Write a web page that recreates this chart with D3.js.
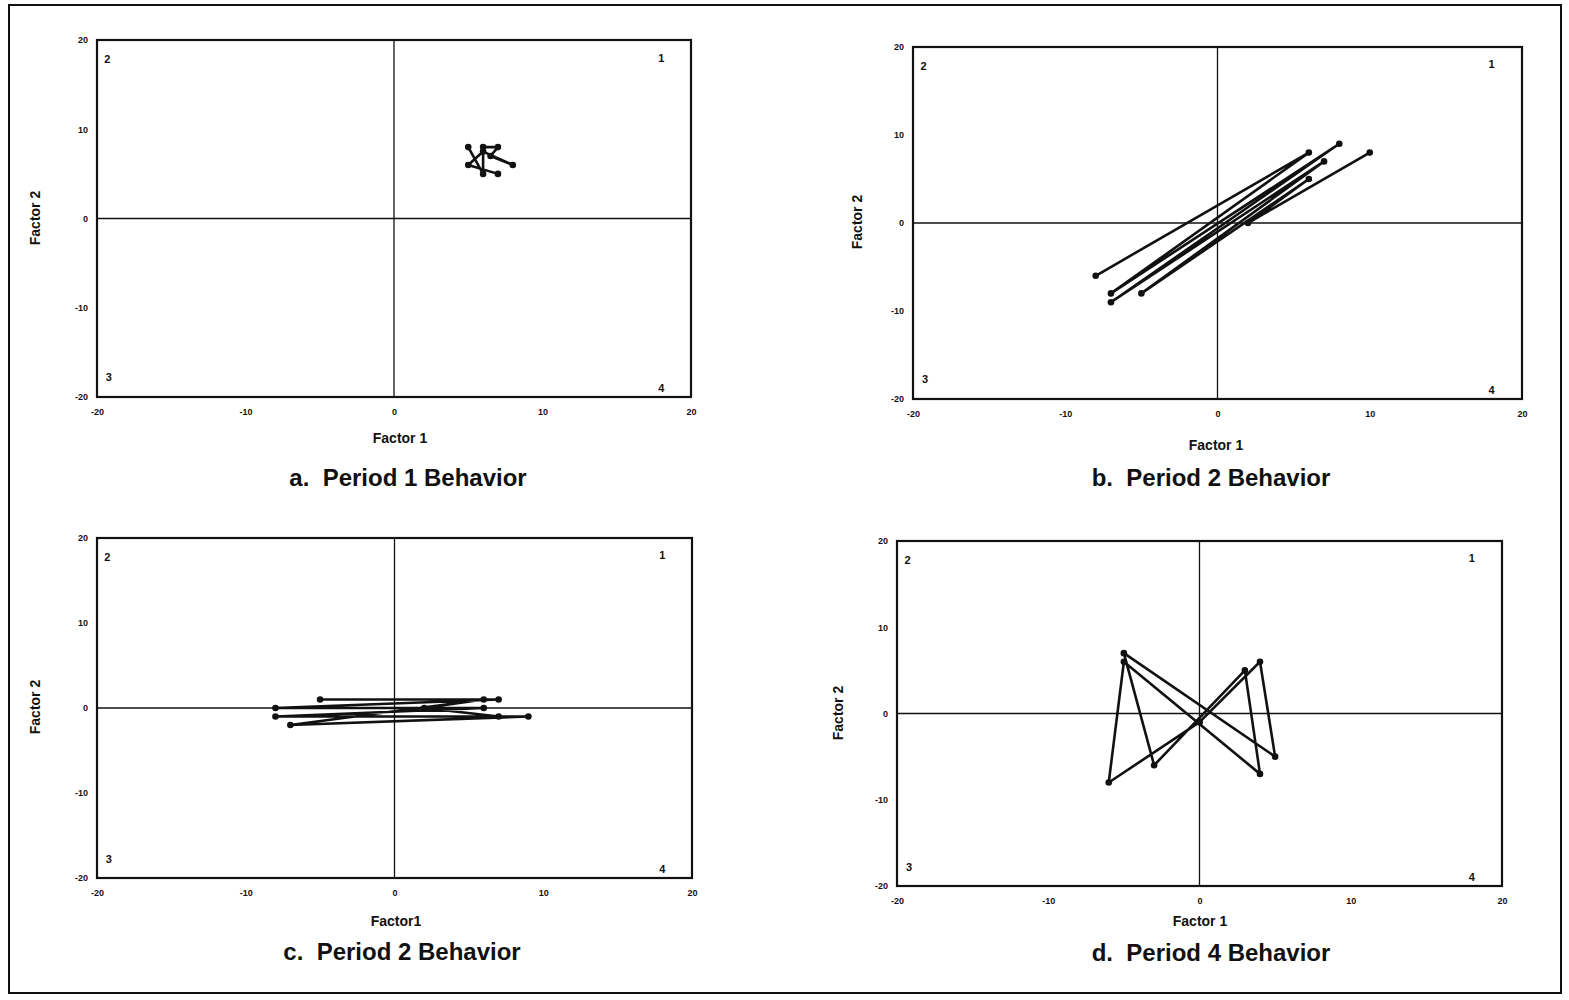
<!DOCTYPE html>
<html>
  <head>
    <meta charset="utf-8">
    <title>Period Behavior</title>
    <script src="https://d3js.org/d3.v7.min.js"></script>
    <style>
      body { margin: 0; background: #fff; }
      text { font-family: "Liberation Sans", Arial, sans-serif; fill: #111; white-space: pre; }
    </style>
  </head>
  <body>
    <div id="chart"></div>
    <script>
      // tick values shared by every panel
      var axisTicks = [-20, -10, 0, 10, 20]

      // trajectories, [factor1, factor2]
      var period1 = [[5,8],[6,5],[6,8],[7,8],[6.5,7],[8,6],[6,7.5],[5,6],[7,5]]
      var period2b = [[-8,-6],[6,8],[-7,-8],[8,9],[-7,-9],[7,7],[-5,-8],[6,5],[2,0],[10,8]]
      var period2c = [[-5,1],[7,1],[-8,0],[6,0],[-8,-1],[9,-1],[-7,-2],[6,1],[2,0],[7,-1]]
      var period4 = [[0,-1],[-6,-8],[-5,6],[4,-7],[3,5],[-3,-6],[-5,7],[5,-5],[4,6],[0,-1]]

      var quadrants = ["1", "2", "3", "4"]
      var quadPos = [[18,18],[-19.3,17.8],[-19.2,-17.8],[18,-19]]

      var titles = ["a.  Period 1 Behavior", "b.  Period 2 Behavior", "c.  Period 2 Behavior", "d.  Period 4 Behavior"]
      var xLabels = ["Factor 1", "Factor 1", "Factor1", "Factor 1"]

      // panel placement on the page
      const panels = [
        {data: period1,  left: 97,  right: 691,  top: 40,  bottom: 397, xlab: [400, 438], ylab: [35, 218],  title: [408, 478]},
        {data: period2b, left: 913, right: 1522, top: 47,  bottom: 399, xlab: [1216, 445], ylab: [857, 222], title: [1211, 478]},
        {data: period2c, left: 97,  right: 692,  top: 538, bottom: 878, xlab: [396, 921], ylab: [35, 707],  title: [402, 952]},
        {data: period4,  left: 897, right: 1502, top: 541, bottom: 886, xlab: [1200, 921], ylab: [838, 713], title: [1211, 953]}
      ]

      const svg = d3.select("#chart")
        .append("svg")
          .attr("width", 1569)
          .attr("height", 1000)

      // outer frame
      svg.append("rect")
        .attr("x", 9).attr("y", 5)
        .attr("width", 1552).attr("height", 988)
        .attr("fill", "none")
        .attr("stroke", "#111")
        .attr("stroke-width", 2)

      const tickFmt = d => String(d).replace("-", "-")

      panels.forEach(function(p, i) {
        const x = d3.scaleLinear().domain([-20, 20]).range([p.left, p.right])
        const y = d3.scaleLinear().domain([-20, 20]).range([p.bottom, p.top])
        const g = svg.append("g")

        // quadrant cross
        g.append("line")
          .attr("x1", x(0)).attr("x2", x(0))
          .attr("y1", y(-20)).attr("y2", y(20))
          .attr("stroke", "#111").attr("stroke-width", 1.3)
        g.append("line")
          .attr("x1", x(-20)).attr("x2", x(20))
          .attr("y1", y(0)).attr("y2", y(0))
          .attr("stroke", "#111").attr("stroke-width", 1.3)

        g.append("rect")
          .attr("x", x(-20)).attr("y", y(20))
          .attr("width", x(20) - x(-20)).attr("height", y(-20) - y(20))
          .attr("fill", "none")
          .attr("stroke", "#111")
          .attr("stroke-width", 2.2)

        g.append("g")
          .attr("transform", `translate(${p.left},0)`)
          .call(d3.axisLeft(y).tickValues(axisTicks).tickFormat(tickFmt).tickSize(0).tickPadding(9))
          .call(a => a.select(".domain").remove())
          .selectAll("text")
            .attr("font-size", "9px")
            .attr("font-weight", "bold")

        g.append("g")
          .attr("transform", `translate(0,${p.bottom})`)
          .call(d3.axisBottom(x).tickValues(axisTicks).tickFormat(tickFmt).tickSize(0).tickPadding(12))
          .call(a => a.select(".domain").remove())
          .selectAll("text")
            .attr("font-size", "9px")
            .attr("font-weight", "bold")

        // quadrant numbers
        g.selectAll("text.quad")
          .data(quadrants)
          .join("text")
            .attr("class", "quad")
            .attr("x", (d, k) => x(quadPos[k][0]))
            .attr("y", (d, k) => y(quadPos[k][1]))
            .attr("dy", "0.35em")
            .attr("text-anchor", "middle")
            .attr("font-size", "11px")
            .attr("font-weight", "bold")
            .text(d => d)

        // trajectory
        const line = d3.line().x(d => x(d[0])).y(d => y(d[1]))
        g.append("path")
          .datum(p.data)
          .attr("d", line)
          .attr("fill", "none")
          .attr("stroke", "#111")
          .attr("stroke-width", 2.6)
          .attr("stroke-linejoin", "round")

        g.selectAll("circle")
          .data(p.data)
          .join("circle")
            .attr("cx", d => x(d[0]))
            .attr("cy", d => y(d[1]))
            .attr("r", 3.3)
            .attr("fill", "#111")

        g.append("text").text(xLabels[i])
          .attr("x", p.xlab[0]).attr("y", p.xlab[1])
          .attr("dy", "0.35em")
          .attr("text-anchor", "middle")
          .attr("font-size", "14px")
          .attr("font-weight", "bold")

        g.append("text").text("Factor 2")
          .attr("transform", `translate(${p.ylab[0]},${p.ylab[1]})rotate(-90)`)
          .attr("dy", "0.35em")
          .attr("text-anchor", "middle")
          .attr("font-size", "14px")
          .attr("font-weight", "bold")

        g.append("text").text(titles[i])
          .attr("x", p.title[0]).attr("y", p.title[1])
          .attr("dy", "0.35em")
          .attr("text-anchor", "middle")
          .attr("font-size", "24px")
          .attr("font-weight", "bold")
      })
    </script>
  </body>
</html>
